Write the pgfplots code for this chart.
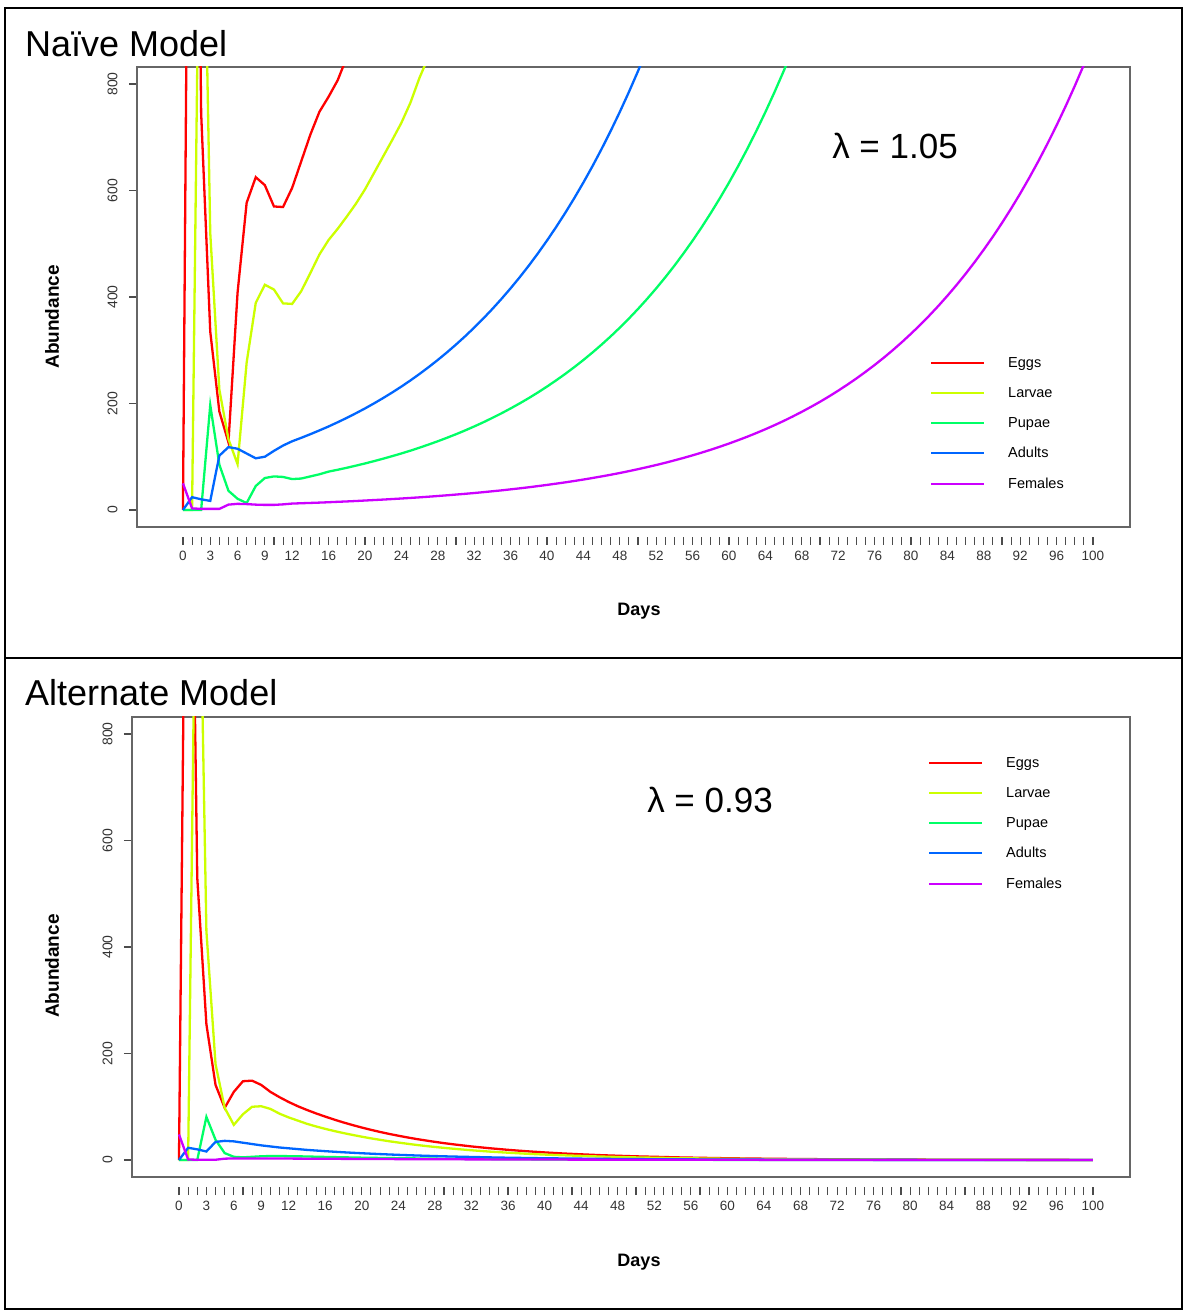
\documentclass[border=0pt]{standalone}
\usepackage{fontspec}
\setmainfont{Liberation Sans}
\usepackage{pgfplots}
\pgfplotsset{compat=1.18}
\definecolor{cEgg}{HTML}{FF0000}
\definecolor{cLar}{HTML}{CCFF00}
\definecolor{cPup}{HTML}{00FF66}
\definecolor{cAdu}{HTML}{0066FF}
\definecolor{cFem}{HTML}{CC00FF}
\pgfplotsset{
  rplot/.style={
    scale only axis,
    height=460pt,
    /pgf/number format/assume math mode=true,
    axis line style={draw=black!60, line width=1.3pt},
    xtick={0,3,6,9,12,16,20,24,28,32,36,40,44,48,52,56,60,64,68,72,76,80,84,88,92,96,100},
    minor xtick={1,2,4,5,7,8,10,11,13,14,15,17,18,19,21,22,23,25,26,27,29,30,31,33,34,35,37,38,39,41,42,43,45,46,47,49,50,51,53,54,55,57,58,59,61,62,63,65,66,67,69,70,71,73,74,75,77,78,79,81,82,83,85,86,87,89,90,91,93,94,95,97,98,99},
    ytick={0,200,400,600,800},
    xtick pos=bottom, ytick pos=left,
    tick align=outside,
    major tick length=8pt, minor tick length=8pt,
    every tick/.style={draw=black!70, line width=1.1pt},
    every minor tick/.style={draw=black!70, line width=1.1pt},
    every major tick/.style={draw=black!70, line width=1.1pt},
    every major x tick/.append style={yshift=-10pt},
    every minor x tick/.append style={yshift=-10pt},
    xticklabel style={font=\fontsize{13.5}{15}\selectfont, text=black!80, yshift=-13pt},
    yticklabel style={font=\fontsize{14}{15}\selectfont, text=black!80, rotate=90, anchor=south, yshift=8pt},
    every axis plot/.append style={line width=2.3pt, mark=none},
    legend cell align=left,
    legend image code/.code={\draw[##1, line width=2pt] (0pt,0pt) -- (53pt,0pt);},
    legend style={draw=none, fill=none, font=\fontsize{14.5}{16}\selectfont,
      anchor=north west, row sep=14.5pt, inner sep=0pt,
      /tikz/every odd column/.append style={column sep=21pt}},
  }
}
\begin{document}
\begin{tikzpicture}
\useasboundingbox (0,0) rectangle (1183pt,1310pt);
\draw[line width=2pt] (5pt,1302pt) rectangle (1182pt,1pt);
\draw[line width=2.4pt] (5pt,652pt) -- (1183pt,652pt);
\node[anchor=base west, inner sep=0pt, font=\fontsize{36}{40}\selectfont] at (25pt,1253pt) {Naïve Model};
\node[anchor=base west, inner sep=0pt, font=\fontsize{36}{40}\selectfont] at (25pt,604pt) {Alternate Model};
\node[font=\fontsize{19}{22}\selectfont\bfseries, rotate=90] at (52pt,993pt) {Abundance};
\node[font=\fontsize{19}{22}\selectfont\bfseries, rotate=90] at (52pt,344pt) {Abundance};
\node[font=\fontsize{18}{22}\selectfont\bfseries] at (639pt,699pt) {Days};
\node[font=\fontsize{18}{22}\selectfont\bfseries] at (639pt,48pt) {Days};
\node[font=\fontsize{35}{40}\selectfont] at (895pt,1164pt) {λ = 1.05};
\node[font=\fontsize{35}{40}\selectfont] at (710pt,510pt) {λ = 0.93};

\begin{axis}[rplot, width=993pt, at={(137pt,783pt)}, anchor=south west,
  xmin=-5.05, xmax=104.07, ymin=-32, ymax=832,
  legend style={at={(0.7986,0.374)}}]
\addplot[cEgg] coordinates {(0,0)(1,2280)(2,745)(3,335)(4,185)(5,127)(6,408)(7,577)(8,625)(9,610)(10,570)(11,569)(12,605)(13,655)(14,705)(15,748)(16,776)(17,807)(18,850)};
\addlegendentry{Eggs}
\addplot[cLar] coordinates {(0,0)(1,0)(2,1460)(3,520)(4,226)(5,133)(6,86)(7,277)(8,389)(9,423)(10,414)(11,388)(12,387)(13,411)(14,445)(15,480)(16,507)(17,528)(18,551)(19,575)(20,602)(21,633)(22,664)(23,695)(24,727)(25,765)(26,812)(27,852)};
\addlegendentry{Larvae}
\addplot[cPup] coordinates {(0,0)(1,0)(2,0)(3,197)(4,85)(5,36)(6,21)(7,13)(8,45)(9,60)(10,63)(11,62)(12,58)(13,59)(14,63)(15,67)(16,72)(17,75.5)(18,79.2)(19,83.2)(20,87.3)(21,91.7)(22,96.3)(23,101.1)(24,106.1)(25,111.4)(26,117)(27,122.9)(28,129.0)(29,135.5)(30,142.2)(31,149.3)(32,156.8)(33,164.6)(34,172.9)(35,181.5)(36,190.6)(37,200.1)(38,210.1)(39,220.6)(40,231.7)(41,243.3)(42,255.4)(43,268.2)(44,281.6)(45,295.7)(46,310.5)(47,326.0)(48,342.3)(49,359.4)(50,377.4)(51,396.3)(52,416.1)(53,436.9)(54,458.7)(55,481.7)(56,505.7)(57,531.0)(58,557.6)(59,585.5)(60,614.7)(61,645.5)(62,677.7)(63,711.6)(64,747.2)(65,784.6)(66,823.8)(67,865.0)};
\addlegendentry{Pupae}
\addplot[cAdu] coordinates {(0,0)(1,24)(2,20)(3,17)(4,102)(5,118)(6,115)(7,106)(8,97)(9,100)(10,111)(11,121)(12,129)(13,135.5)(14,142.3)(15,149.4)(16,156.8)(17,164.7)(18,172.9)(19,181.6)(20,190.6)(21,200.2)(22,210.2)(23,220.7)(24,231.7)(25,243.3)(26,255.5)(27,268.3)(28,281.7)(29,295.8)(30,310.6)(31,326.1)(32,342.4)(33,359.5)(34,377.5)(35,396.4)(36,416.2)(37,437.0)(38,458.8)(39,481.8)(40,505.9)(41,531.2)(42,557.7)(43,585.6)(44,614.9)(45,645.6)(46,677.9)(47,711.8)(48,747.4)(49,784.8)(50,824)(51,865.2)};
\addlegendentry{Adults}
\addplot[cFem] coordinates {(0,50)(1,3)(2,2)(3,2)(4,2)(5,10)(6,11.5)(7,11)(8,10)(9,9.5)(10,9.5)(11,10.5)(12,12)(13,12.6)(14,13.2)(15,13.8)(16,14.5)(17,15.3)(18,16.0)(19,16.8)(20,17.7)(21,18.6)(22,19.5)(23,20.5)(24,21.5)(25,22.6)(26,23.7)(27,24.9)(28,26.2)(29,27.5)(30,28.9)(31,30.3)(32,31.8)(33,33.4)(34,35.1)(35,36.8)(36,38.7)(37,40.6)(38,42.6)(39,44.8)(40,47.0)(41,49.4)(42,51.8)(43,54.4)(44,57.1)(45,60.0)(46,63.0)(47,66.1)(48,69.4)(49,72.9)(50,76.6)(51,80.4)(52,84.4)(53,88.6)(54,93.1)(55,97.7)(56,102.6)(57,107.7)(58,113.1)(59,118.8)(60,124.7)(61,131.0)(62,137.5)(63,144.4)(64,151.6)(65,159.2)(66,167.1)(67,175.5)(68,184.3)(69,193.5)(70,203.1)(71,213.3)(72,224.0)(73,235.2)(74,246.9)(75,259.3)(76,272.2)(77,285.8)(78,300.1)(79,315.1)(80,330.9)(81,347.4)(82,364.8)(83,383.0)(84,402.2)(85,422.3)(86,443.4)(87,465.6)(88,488.9)(89,513.3)(90,539.0)(91,565.9)(92,594.2)(93,623.9)(94,655.1)(95,687.9)(96,722.3)(97,758.4)(98,796.3)(99,836.1)(100,877.9)};
\addlegendentry{Females}
\end{axis}

\begin{axis}[rplot, width=998pt, at={(132pt,133pt)}, anchor=south west,
  xmin=-5.14, xmax=104.05, ymin=-31.9, ymax=832,
  legend style={at={(0.7976,0.9174)}}]
\addplot[cEgg] coordinates {(0,0)(1,1750)(2,530)(3,255)(4,141)(5,98)(6,128)(7,148)(8,149)(9,141)(10,128)(11,118)(12,109)(13,101)(14,94)(15,87.5)(16,81.5)(17,75.8)(18,70.5)(19,65.6)(20,61.0)(21,56.7)(22,52.7)(23,49.0)(24,45.6)(25,42.4)(26,39.4)(27,36.7)(28,34.1)(29,31.7)(30,29.5)(32,25.5)(34,22.1)(36,19.1)(38,16.5)(40,14.3)(42,12.3)(44,10.7)(46,9.2)(48,8.0)(50,6.9)(55,4.8)(60,3.3)(65,2.3)(70,1.6)(75,1.1)(80,0.76)(85,0.53)(90,0.37)(95,0.25)(100,0.17)};
\addlegendentry{Eggs}
\addplot[cLar] coordinates {(0,0)(1,0)(2,1400)(3,430)(4,180)(5,98)(6,66)(7,86)(8,100)(9,101)(10,96)(11,87)(12,80)(13,74)(14,68)(15,63)(16,58.5)(17,54.4)(18,50.6)(19,47.1)(20,43.8)(21,40.7)(22,37.9)(23,35.2)(24,32.8)(25,30.5)(26,28.3)(27,26.3)(28,24.5)(29,22.8)(30,21.2)(32,18.3)(34,15.8)(36,13.7)(38,11.8)(40,10.2)(42,8.9)(44,7.7)(46,6.6)(48,5.7)(50,4.9)(55,3.4)(60,2.4)(65,1.6)(70,1.1)(75,0.8)(80,0.55)(85,0.38)(90,0.26)(95,0.18)(100,0.12)};
\addlegendentry{Larvae}
\addplot[cPup] coordinates {(0,0)(1,0)(2,0)(3,81)(4,38)(5,13)(6,6)(7,5)(8,6)(9,7)(10,7.5)(11,7.5)(12,7.2)(13,7)(14,6.6)(15,6.2)(16,5.8)(18,5.1)(20,4.4)(22,3.9)(24,3.4)(26,3.0)(28,2.6)(30,2.3)(35,1.6)(40,1.1)(45,0.8)(50,0.55)(60,0.26)(70,0.13)(80,0.06)(90,0.03)(100,0.015)};
\addlegendentry{Pupae}
\addplot[cAdu] coordinates {(0,0)(1,23)(2,20)(3,16)(4,34)(5,36)(6,35)(7,32.5)(8,30)(9,27.5)(10,25.5)(11,23.5)(12,22)(13,20.5)(14,19)(15,17.8)(16,16.6)(18,14.5)(20,12.7)(22,11.1)(24,9.7)(26,8.5)(28,7.4)(30,6.5)(35,4.6)(40,3.3)(45,2.4)(50,1.7)(60,0.85)(70,0.43)(80,0.22)(90,0.11)(100,0.055)};
\addlegendentry{Adults}
\addplot[cFem] coordinates {(0,48)(1,1)(2,0.5)(3,0.5)(4,0.5)(5,2.5)(6,3)(7,3)(8,3)(9,2.9)(10,2.8)(12,2.7)(15,2.4)(20,2.0)(25,1.6)(30,1.3)(40,0.85)(50,0.55)(60,0.35)(70,0.22)(80,0.14)(90,0.09)(100,0.06)};
\addlegendentry{Females}
\end{axis}
\end{tikzpicture}
\end{document}
